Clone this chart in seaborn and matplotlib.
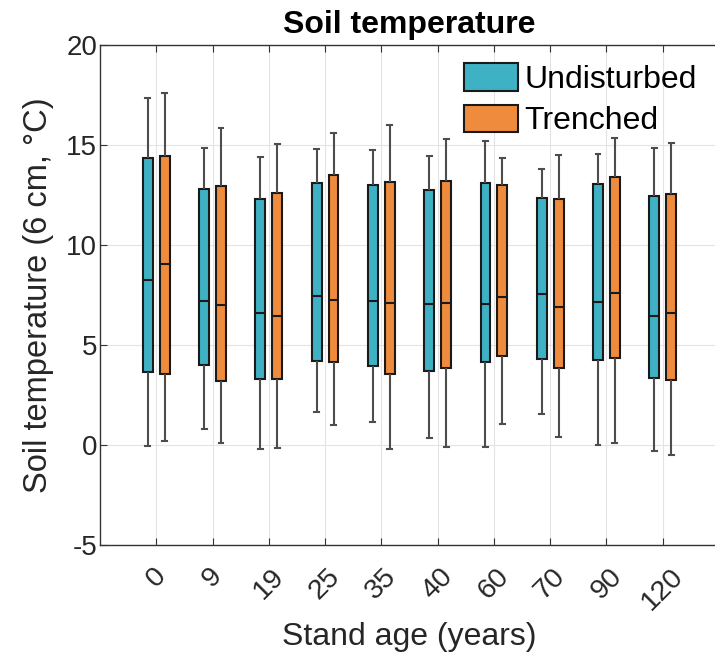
import numpy as np
import pandas as pd
import matplotlib
matplotlib.use("Agg")
import matplotlib.pyplot as plt
import seaborn as sns
from matplotlib.patches import Patch

# dados: bigode inferior, Q1, mediana, Q3, bigode superior
ages = ["0", "9", "19", "25", "35", "40", "60", "70", "90", "120"]
groups = ["Undisturbed", "Trenched"]

und_low = [-0.05, 0.8, -0.18, 1.65, 1.15, 0.35, -0.1, 1.55, -0.02, -0.28]
und_q1 = [3.63, 4.0, 3.28, 4.22, 3.95, 3.68, 4.17, 4.32, 4.27, 3.37]
und_med = [8.25, 7.22, 6.6, 7.45, 7.18, 7.05, 7.05, 7.53, 7.17, 6.47]
und_q3 = [14.33, 12.8, 12.32, 13.08, 12.98, 12.77, 13.08, 12.37, 13.03, 12.45]
und_high = [17.37, 14.87, 14.42, 14.78, 14.75, 14.47, 15.2, 13.8, 14.55, 14.87]

tre_low = [0.22, 0.12, -0.15, 1.02, -0.18, -0.1, 1.07, 0.38, 0.08, -0.5]
tre_q1 = [3.57, 3.2, 3.32, 4.13, 3.57, 3.87, 4.45, 3.87, 4.37, 3.25]
tre_med = [9.05, 7.0, 6.47, 7.23, 7.08, 7.08, 7.42, 6.88, 7.58, 6.6]
tre_q3 = [14.45, 12.95, 12.58, 13.48, 13.17, 13.22, 13.0, 12.32, 13.4, 12.53]
tre_high = [17.6, 15.83, 15.05, 15.58, 15.98, 15.28, 14.33, 14.5, 15.35, 15.12]

cores = {"Undisturbed": "#3fb1c5", "Trenched": "#ee8b3d"}

# Montando dataFrame longo (5 pontos por caixa -> quartis exatos)
linhas = []
for grupo, stats in zip(groups, [(und_low, und_q1, und_med, und_q3, und_high),
                                 (tre_low, tre_q1, tre_med, tre_q3, tre_high)]):
    for i, idade in enumerate(ages):
        for s in stats:
            linhas.append({"age": idade, "temp": s[i], "group": grupo})
df = pd.DataFrame(linhas)

plt.rcParams["font.family"] = ["Liberation Sans", "DejaVu Sans"]
plt.rcParams["axes.unicode_minus"] = False

fig = plt.figure(figsize=(7.15, 6.64), dpi=100)
ax = fig.add_axes([100 / 715, (664 - 545) / 664, 619 / 715, 500 / 664])

sns.boxplot(data=df, x="age", y="temp", hue="group", order=ages, hue_order=groups,
            palette=cores, saturation=1, whis=(0, 100), width=0.6, gap=0.42,
            linewidth=1.5, linecolor="#1a1a1a", legend=False, ax=ax,
            whiskerprops=dict(color="#4d4d4d"), capprops=dict(color="#4d4d4d"),
            medianprops=dict(color="#1a1a1a"))

ax.set_xlim(-1, 10)
ax.set_ylim(-5, 20)
ax.set_yticks(range(-5, 21, 5))
ax.set_xticks(range(len(ages)))
ax.set_xticklabels(ages, rotation=45, ha="center")
ax.grid(True, color="#e3e3e3", linewidth=0.8)
ax.set_axisbelow(True)

ax.spines["right"].set_visible(False)
for lado in ["left", "bottom", "top"]:
    ax.spines[lado].set_color("#333333")
    ax.spines[lado].set_linewidth(1.0)
ax.tick_params(axis="x", direction="in", top=True, length=5, pad=13, labelsize=20.5,
               colors="#333333", labelcolor="#262626")
ax.tick_params(axis="y", direction="in", length=5, pad=2, labelsize=20,
               colors="#333333", labelcolor="#262626")

# Labels
ax.set_xlabel("Stand age (years)", fontsize=23, color="#262626", labelpad=5)
ax.set_ylabel("Soil temperature (6 cm, °C)", fontsize=23.5, color="#262626", labelpad=9)
ax.set_title("Soil temperature", fontsize=23, fontweight="bold", pad=9)

handles = [Patch(facecolor=cores[g], edgecolor="#1a1a1a", linewidth=1.5) for g in groups]
ax.legend(handles, groups, loc="upper right", bbox_to_anchor=(0.969, 0.97),
          frameon=False, fontsize=23, handlelength=1.7, handleheight=0.95,
          handletextpad=0.2, labelspacing=0.3, borderaxespad=0, borderpad=0.1)

fig.savefig("out.png", dpi=100)
